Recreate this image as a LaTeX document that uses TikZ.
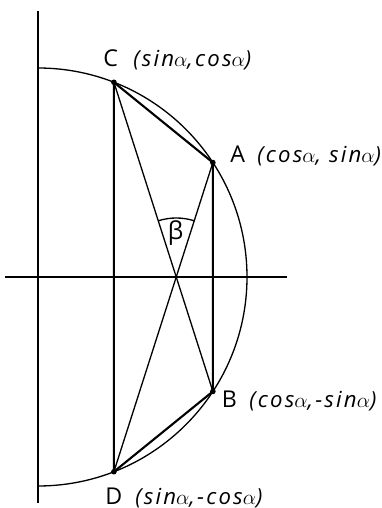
\documentclass[tikz,border=0pt]{standalone}
\usepackage{fontspec}
\setmainfont{Open Sans}
\newfontfamily\crdfont{Open Sans}[LetterSpace=10]
\newcommand{\alf}{\ensuremath{\alpha}}
\usetikzlibrary{calc,intersections}
\begin{document}
\begin{tikzpicture}[x=0.02cm,y=0.02cm,
  axisline/.style={line width=0.85pt},
  thinline/.style={line width=0.75pt},
  thickline/.style={line width=1.2pt},
  ptdot/.style={circle,fill,inner sep=0pt,minimum size=3.2pt},
  lbl/.style={anchor=base west,inner sep=0pt,font=\fontsize{13.2}{15}\selectfont},
  crd/.style={anchor=base west,inner sep=0pt,font=\fontsize{12.6}{15}\selectfont\crdfont\itshape}]
\useasboundingbox (0,0) rectangle (382,508);
\coordinate (O) at (38,231);
\coordinate (Yt) at (38,497);
\coordinate (Yb) at (38,5);
\coordinate (Xl) at (5,231);
\coordinate (Xr) at (287,231);
\coordinate (C) at ($(O)+(68.7:209)$);
\coordinate (A) at ($(O)+(33.2:209)$);
\coordinate (B) at ($(O)+(-33.2:209)$);
\coordinate (D) at ($(O)+(-68.7:209)$);
\coordinate (Ctop) at ($(O)+(90:209)$);
% axes
\draw[axisline] (Yb) -- (Yt);
\draw[axisline] (Xl) -- (Xr);
% half circle
\draw[thinline] (Ctop) arc (90:-90:209);
% diagonals
\draw[thinline] (C) -- (B);
\draw[thinline] (A) -- (D);
\coordinate (X) at (intersection of C--B and A--D);
% thick chords
\draw[thickline,line join=round] (C) -- (A) -- (B) -- (D) -- cycle;
% angle beta
\draw[thinline] ([shift={(72.3:59)}]X) arc (72.3:107.7:59);
\node[font=\fontsize{14}{15}\selectfont] (beta) at (175.5,275) {β};
% points
\foreach \p in {A,B,C,D} \node[ptdot] (p\p) at (\p) {};
% labels
\node[lbl] (lC) at (103,441) {C};
\node[crd] (tC) at (133,441) {(sin\alf,cos\alf)};
\node[lbl] (lA) at (230,345) {A};
\node[crd] (tA) at (257,345) {(cos\alf, sin\alf)};
\node[lbl] (lB) at (221.5,100) {B};
\node[crd] (tB) at (249,100) {(cos\alf,-sin\alf)};
\node[lbl] (lD) at (105,4) {D};
\node[crd] (tD) at (135,4) {(sin\alf,-cos\alf)};
\end{tikzpicture}
\end{document}
